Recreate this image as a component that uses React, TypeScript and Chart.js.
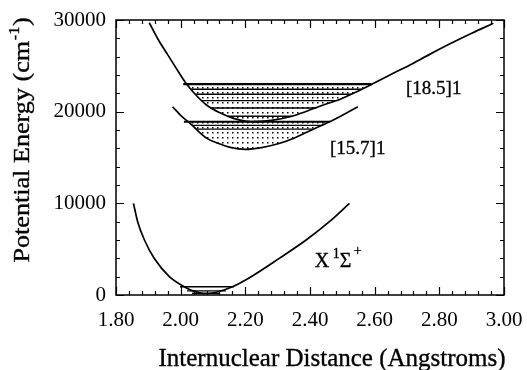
import React, { useEffect, useRef } from 'react';
import { Chart, registerables } from 'chart.js';

Chart.register(...registerables);

// Axis ticks
const xTickValues = [1.8, 2.0, 2.2, 2.4, 2.6, 2.8, 3.0];
const yTickValues = [0, 10000, 20000, 30000];
const xMinorStep = 0.04;
const yMinorStep = 2000;

// Ground state X 1Σ+
const groundR = [1.854, 1.867, 1.888, 1.918, 1.965, 2.011, 2.04, 2.075, 2.11, 2.16, 2.218, 2.305, 2.388, 2.46, 2.522];
const groundE = [10000, 8000, 6000, 4000, 2000, 900, 420, 160, 300, 900, 2000, 4000, 6000, 8000, 10000];

// [15.7]1 state
const s157R = [1.975, 2.0, 2.029, 2.055, 2.081, 2.115, 2.153, 2.2, 2.25, 2.307, 2.35, 2.39, 2.43, 2.472, 2.51, 2.548];
const s157E = [20540, 19600, 18730, 17850, 17090, 16550, 16110, 15890, 16080, 16550, 17100, 17750, 18400, 19100, 19800, 20540];

// [18.5]1 state
const s185R = [1.903, 1.93, 1.957, 1.985, 2.013, 2.045, 2.08, 2.12, 2.163, 2.2, 2.235, 2.28, 2.338, 2.39, 2.441, 2.49, 2.534, 2.6, 2.65, 2.709, 2.77, 2.833, 2.9, 2.967];
const s185E = [29700, 27900, 26370, 24800, 23270, 21900, 20730, 19900, 19270, 18980, 18900, 19050, 19450, 20050, 20730, 21300, 22000, 23150, 24050, 25100, 26250, 27400, 28550, 29640];

// Vibrational levels
const lev185E = [23000, 22450, 21900, 21200, 20400, 19500, 18950];
const lev185L = [2.008, 2.03, 2.046, 2.065, 2.092, 2.145, 2.225];
const lev185R = [2.59, 2.56, 2.528, 2.48, 2.42, 2.345, 2.268];

const lev157E = [18900, 18500, 18100];
const lev157L = [2.01, 2.034, 2.047];
const lev157R = [2.462, 2.433, 2.408];

const levXE = [900, 450, 180];
const levXL = [1.998, 2.02, 2.035];
const levXR = [2.165, 2.14, 2.12];

// Labels
const yTitle = 'Potential Energy (cm';
const yTitleSup = '-1';
const xTitle = 'Internuclear Distance (Angstroms)';
const label185 = '[18.5]1';
const label157 = '[15.7]1';
const labelX = ['X', '1', 'Σ', '+'];
const label185Pos = { x: 2.697, y: 22470 };
const label157Pos = { x: 2.462, y: 15930 };
const labelXPos = { x: 2.415, y: 3090 };

const SERIF = '"Liberation Serif", "Times New Roman", serif';

const toPoints = (r: number[], e: number[]) => r.map((v, i) => ({ x: v, y: e[i] }));

export default function App() {
  const ref = useRef<HTMLCanvasElement | null>(null);

  useEffect(() => {
    if (!ref.current) return;

    const pc = document.createElement('canvas');
    pc.width = 5;
    pc.height = 5;
    const pctx = pc.getContext('2d')!;
    pctx.fillStyle = '#000';
    pctx.fillRect(2, 2, 1.5, 1.5);
    const dots = pctx.createPattern(pc, 'repeat')!;

    const levelSets = (E: number[], L: number[], R: number[], thickFirst: boolean) =>
      E.map((e, i) => ({
        data: [{ x: L[i], y: e }, { x: R[i], y: e }],
        borderColor: '#000',
        borderWidth: thickFirst && i === 0 ? 2.2 : 1.4,
        pointRadius: 0,
        fill: false,
        tension: 0,
      }));

    const curve = (r: number[], e: number[], fillTo: number | null) => ({
      data: toPoints(r, e),
      borderColor: '#000',
      borderWidth: 1.7,
      pointRadius: 0,
      cubicInterpolationMode: 'monotone' as const,
      fill: fillTo === null ? false : { target: { value: fillTo }, above: 'rgba(0,0,0,0)', below: dots },
    });

    const frameTicks = {
      id: 'frameTicks',
      afterDraw(chart: any) {
        const { ctx, chartArea } = chart;
        const { left, right, top, bottom } = chartArea;
        const xs = chart.scales.x;
        const ys = chart.scales.y;
        ctx.save();
        ctx.strokeStyle = '#000';
        ctx.lineWidth = 1.5;
        ctx.strokeRect(left, top, right - left, bottom - top);
        ctx.lineWidth = 1.2;
        const xmin = xTickValues[0];
        const xmax = xTickValues[xTickValues.length - 1];
        const nX = Math.round((xmax - xmin) / xMinorStep);
        for (let i = 0; i <= nX; i++) {
          const v = xmin + i * xMinorStep;
          const px = Math.round(xs.getPixelForValue(v)) + 0.5;
          const len = i % 5 === 0 ? 8 : 4;
          ctx.beginPath();
          ctx.moveTo(px, bottom);
          ctx.lineTo(px, bottom - len);
          ctx.moveTo(px, top);
          ctx.lineTo(px, top + len);
          ctx.stroke();
        }
        const ymin = yTickValues[0];
        const ymax = yTickValues[yTickValues.length - 1];
        const nY = Math.round((ymax - ymin) / yMinorStep);
        for (let i = 0; i <= nY; i++) {
          const v = ymin + i * yMinorStep;
          const py = Math.round(ys.getPixelForValue(v)) + 0.5;
          const len = i % 5 === 0 ? 8 : 4;
          ctx.beginPath();
          ctx.moveTo(left, py);
          ctx.lineTo(left + len, py);
          ctx.moveTo(right, py);
          ctx.lineTo(right - len, py);
          ctx.stroke();
        }

        ctx.fillStyle = '#000';
        ctx.strokeStyle = '#000';
        ctx.lineWidth = 0.35;
        const txt = (s: string, x: number, y: number) => {
          ctx.fillText(s, x, y);
          ctx.strokeText(s, x, y);
        };
        // x title
        ctx.font = `25px ${SERIF}`;
        ctx.textAlign = 'center';
        ctx.textBaseline = 'alphabetic';
        txt(xTitle, 332, 366);

        // y title (rotated) with superscript
        ctx.save();
        ctx.translate(29, 140);
        ctx.rotate(-Math.PI / 2);
        ctx.scale(1.09, 1);
        ctx.textAlign = 'left';
        ctx.font = `24px ${SERIF}`;
        const w1 = ctx.measureText(yTitle).width;
        const wp = ctx.measureText(')').width;
        ctx.font = `15px ${SERIF}`;
        const w2 = ctx.measureText(yTitleSup).width;
        const total = w1 + w2 + wp + 1;
        let sx = -total / 2;
        ctx.font = `24px ${SERIF}`;
        txt(yTitle, sx, 0);
        sx += w1 + 0.5;
        ctx.font = `15px ${SERIF}`;
        txt(yTitleSup, sx, -10);
        sx += w2 + 0.5;
        ctx.font = `24px ${SERIF}`;
        txt(')', sx, 0);
        ctx.restore();

        // state labels
        ctx.textAlign = 'left';
        ctx.textBaseline = 'middle';
        ctx.font = `19px ${SERIF}`;
        txt(label185, xs.getPixelForValue(label185Pos.x), ys.getPixelForValue(label185Pos.y));
        txt(label157, xs.getPixelForValue(label157Pos.x), ys.getPixelForValue(label157Pos.y));

        ctx.textBaseline = 'alphabetic';
        const bx = xs.getPixelForValue(labelXPos.x);
        const by = ys.getPixelForValue(labelXPos.y);
        ctx.font = `20px ${SERIF}`;
        txt(labelX[0], bx, by);
        ctx.font = `14px ${SERIF}`;
        txt(labelX[1], bx + 18, by - 9);
        ctx.font = `20px ${SERIF}`;
        txt(labelX[2], bx + 25, by);
        ctx.font = `14px ${SERIF}`;
        txt(labelX[3], bx + 39, by - 12);
        ctx.restore();
      },
    };

    const chart = new Chart(ref.current, {
      type: 'line',
      data: {
        datasets: [
          curve(groundR, groundE, null),
          curve(s157R, s157E, lev157E[0]),
          curve(s185R, s185E, lev185E[0]),
          ...levelSets(levXE, levXL, levXR, false),
          ...levelSets(lev157E, lev157L, lev157R, true),
          ...levelSets(lev185E, lev185L, lev185R, true),
        ] as any,
      },
      options: {
        animation: false,
        responsive: false,
        devicePixelRatio: 1,
        layout: { padding: { left: 0, right: 23, top: 20, bottom: 0 } },
        plugins: {
          legend: { display: false },
          tooltip: { enabled: false },
          title: { display: false },
        },
        scales: {
          x: {
            type: 'linear',
            min: xTickValues[0],
            max: xTickValues[xTickValues.length - 1],
            grid: { display: false, drawTicks: false, tickLength: 0 },
            border: { display: false },
            afterBuildTicks: (s: any) => {
              s.ticks = xTickValues.map((v) => ({ value: v }));
            },
            afterFit: (s: any) => {
              s.height = 75;
              s.paddingLeft = 0;
              s.paddingRight = 0;
            },
            ticks: {
              color: '#000',
              padding: 13,
              maxRotation: 0,
              font: { family: SERIF, size: 21 },
              callback: (v: any) => Number(v).toFixed(2),
            },
          },
          y: {
            type: 'linear',
            min: yTickValues[0],
            max: yTickValues[yTickValues.length - 1],
            grid: { display: false, drawTicks: false, tickLength: 0 },
            border: { display: false },
            afterBuildTicks: (s: any) => {
              s.ticks = yTickValues.map((v) => ({ value: v }));
            },
            afterFit: (s: any) => {
              s.width = 116;
              s.paddingTop = 0;
              s.paddingBottom = 0;
            },
            ticks: {
              color: '#000',
              padding: 10,
              font: { family: SERIF, size: 21 },
              callback: (v: any) => String(v),
            },
          },
        },
      },
      plugins: [frameTicks],
    });

    return () => chart.destroy();
  }, []);

  return (
    <div style={{ position: 'fixed', left: 0, top: 0, width: 527, height: 370, background: '#fff' }}>
      <canvas ref={ref} width={527} height={370} style={{ width: 527, height: 370, display: 'block' }} />
    </div>
  );
}
